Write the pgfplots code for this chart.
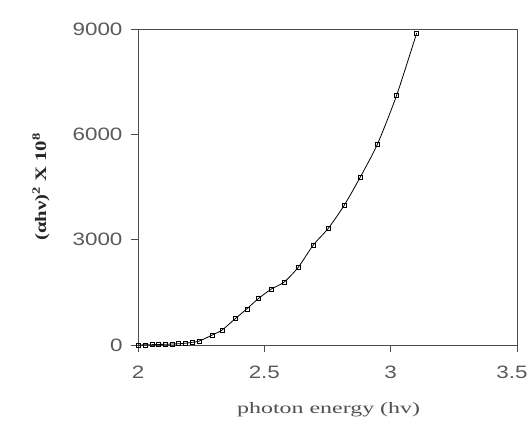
\documentclass[border=0pt]{standalone}
\usepackage{pgfplots}
\pgfplotsset{compat=1.18}
\usepackage{fontspec}
\setmainfont{Liberation Serif}
\newfontfamily\tickfont[FakeStretch=1.25]{Liberation Sans}
\newfontfamily\labfont[FakeStretch=1.5]{Liberation Serif}
\newfontfamily\ylabfont[FakeStretch=1.3]{Liberation Serif}

\definecolor{ticktext}{HTML}{5A5A5A}
\definecolor{labtext}{HTML}{505050}

\pgfplotstableread{
hv    y
2.000 0
2.028 5
2.056 10
2.080 15
2.107 20
2.135 28
2.159 35
2.187 50
2.214 75
2.242 110
2.294 285
2.333 427
2.385 750
2.431 1030
2.476 1320
2.528 1595
2.579 1795
2.635 2220
2.694 2850
2.754 3330
2.817 3990
2.880 4785
2.948 5725
3.024 7120
3.103 8885
}\absdata

\begin{document}
\begin{tikzpicture}
\useasboundingbox (-138bp,-79bp) rectangle (393bp,345bp);
\begin{axis}[
  scale only axis,
  width=379bp, height=316bp,
  xmin=2, xmax=3.5, ymin=0, ymax=9000,
  xtick={2,2.5,3,3.5},
  xticklabels={2,2.5,3,{\kern-10bp 3.5}},
  ytick={0,3000,6000,9000},
  xtick pos=left, ytick pos=left,
  tick align=outside,
  major tick length=7bp,
  minor tick num=0,
  axis line style={black!70, line width=0.9bp},
  tick style={black!70, line width=0.8bp},
  /pgf/number format/assume math mode=true,
  /pgf/number format/.cd, 1000 sep={}, /pgfplots/.cd,
  ticklabel style={font=\tickfont\fontsize{18}{20}\selectfont, text=ticktext},
  xticklabel style={yshift=-10bp},
  yticklabel style={xshift=-5bp},
  xlabel={photon energy (hv)},
  xlabel style={font=\labfont\fontsize{16}{18}\selectfont, text=labtext,
    at={(axis description cs:0.503,0)}, anchor=base, yshift=-68bp},
  ylabel={(\textbf{αhν})\textsuperscript{2} X 10\textsuperscript{8}},
  ylabel style={font=\ylabfont\bfseries\fontsize{16}{18}\selectfont, text=black!85,
    at={(axis description cs:0,0.5)}, anchor=center, yshift=97bp},
]
\addplot[black, line width=0.8bp, smooth, tension=0.4,
  mark=square, mark size=2bp, mark options={solid, line width=0.6bp, fill=white}]
  table[x=hv, y=y] {\absdata};
\end{axis}
\end{tikzpicture}
\end{document}
